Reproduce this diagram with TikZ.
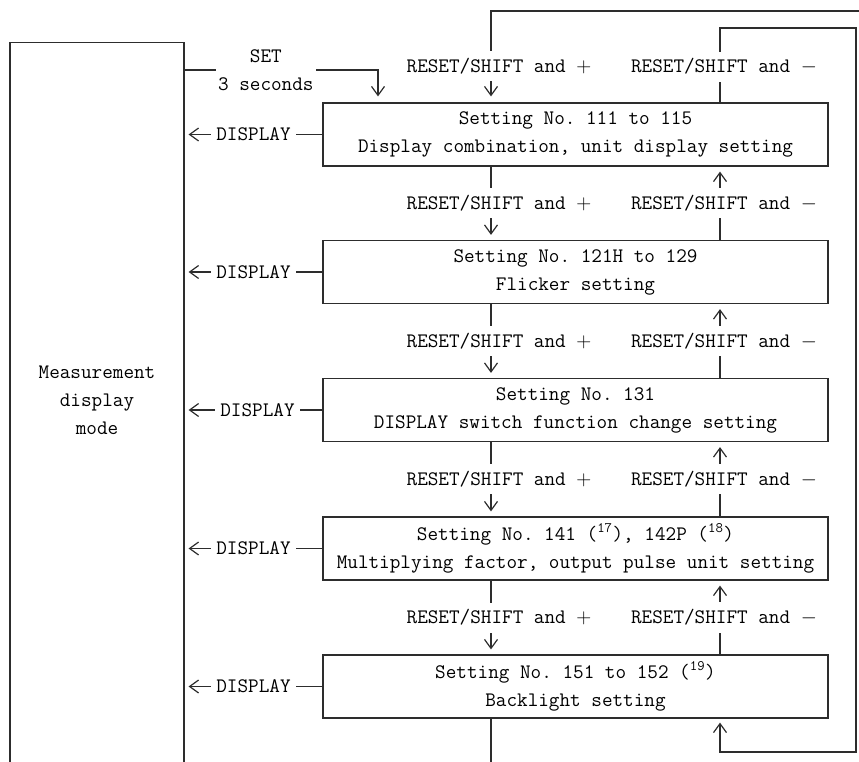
\documentclass[tikz,border=0pt]{standalone}
\usepackage{tikz}
\usetikzlibrary{arrows.meta, positioning, calc}
\definecolor{LineGray}{RGB}{45,45,45}

\begin{document}
\frenchspacing
\begin{tikzpicture}[x=1pt, y=-1pt,
    font=\fontsize{20.6}{28}\selectfont\ttfamily,
    setbox/.style={draw=LineGray, line width=1.2pt, minimum width=505pt,
                   minimum height=63pt, align=center, inner sep=0pt},
    arr/.style={-{Straight Barb[length=9pt, width=13pt]}, line width=1.2pt, LineGray},
    lbl/.style={fill=white, text=black, inner xsep=5pt, inner ysep=7pt}
  ]
  \clip (0,0) rectangle (859,762);

  % Measurement display mode (open at the bottom)
  \node[draw=LineGray, line width=1.2pt, minimum width=174pt,
        minimum height=760pt, anchor=north] (mode) at (97,42) {};
  \node[align=center] (modetxt) at (97,400) {Measurement\\display\\mode};

  % Setting boxes
  \node[setbox] (s111) at (575.5,134.5)
        {Setting No. 111 to 115\\Display combination, unit display setting};
  \node[setbox] (s121) at (575.5,272)
        {Setting No. 121H to 129\\Flicker setting};
  \node[setbox] (s131) at (575.5,410)
        {Setting No. 131\\DISPLAY switch function change setting};
  \node[setbox] (s141) at (575.5,548.5)
        {Setting No. 141 (\textsuperscript{17}), 142P (\textsuperscript{18})\\Multiplying factor, output pulse unit setting};
  \node[setbox] (s151) at (575.5,686.5)
        {Setting No. 151 to 152 (\textsuperscript{19})\\Backlight setting};

  % columns and loop corners
  \coordinate (dncol) at (491,0);
  \coordinate (upcol) at (720,0);
  \coordinate (setturn) at (378,70);
  \coordinate (outbot) at (880,790);
  \coordinate (outtop) at (880,11);
  \coordinate (intop) at (856,28);
  \coordinate (inbot) at (856,752);

  % SET 3 seconds
  \draw[arr, shorten >=6pt] (mode.east |- setturn)
        -- node[lbl, align=center, inner xsep=2pt, pos=0.42]{SET\\3 seconds} (setturn)
        -- (s111.north -| setturn);

  % outer loop (+)
  \draw[arr, shorten >=6pt] (s151.south -| dncol) |- (outbot) -- (outtop)
        -| (s111.north -| dncol) node[lbl, pos=0.8, xshift=8pt]{RESET/SHIFT and $+$};

  % inner loop (-)
  \draw[arr, shorten >=4pt] (s111.north -| upcol)
        |- node[lbl, pos=0.24, xshift=4pt]{RESET/SHIFT and $-$} (intop)
        -- (inbot) -| (s151.south -| upcol);

  % RESET/SHIFT and + between boxes
  \draw[arr, shorten >=5pt] (s111.south -| dncol) -- (s121.north -| dncol)
        node[lbl, midway, xshift=8pt]{RESET/SHIFT and $+$};
  \draw[arr, shorten >=5pt] (s121.south -| dncol) -- (s131.north -| dncol)
        node[lbl, midway, xshift=8pt]{RESET/SHIFT and $+$};
  \draw[arr, shorten >=5pt] (s131.south -| dncol) -- (s141.north -| dncol)
        node[lbl, midway, xshift=8pt]{RESET/SHIFT and $+$};
  \draw[arr, shorten >=5pt] (s141.south -| dncol) -- (s151.north -| dncol)
        node[lbl, midway, xshift=8pt]{RESET/SHIFT and $+$};

  % RESET/SHIFT and - between boxes
  \draw[arr, shorten >=5pt] (s121.north -| upcol) -- (s111.south -| upcol)
        node[lbl, midway, xshift=4pt]{RESET/SHIFT and $-$};
  \draw[arr, shorten >=5pt] (s131.north -| upcol) -- (s121.south -| upcol)
        node[lbl, midway, xshift=4pt]{RESET/SHIFT and $-$};
  \draw[arr, shorten >=5pt] (s141.north -| upcol) -- (s131.south -| upcol)
        node[lbl, midway, xshift=4pt]{RESET/SHIFT and $-$};
  \draw[arr, shorten >=5pt] (s151.north -| upcol) -- (s141.south -| upcol)
        node[lbl, midway, xshift=4pt]{RESET/SHIFT and $-$};

  % DISPLAY back to measurement mode
  \draw[arr, shorten >=4pt] (s111.west) -- (s111.west -| mode.east)
        node[lbl, midway, inner ysep=2pt]{DISPLAY};
  \draw[arr, shorten >=4pt] (s121.west) -- (s121.west -| mode.east)
        node[lbl, midway, inner ysep=2pt]{DISPLAY};
  \draw[arr, shorten >=4pt] (s131.west) -- (s131.west -| mode.east)
        node[lbl, midway, inner ysep=2pt, xshift=4pt]{DISPLAY};
  \draw[arr, shorten >=4pt] (s141.west) -- (s141.west -| mode.east)
        node[lbl, midway, inner ysep=2pt]{DISPLAY};
  \draw[arr, shorten >=4pt] (s151.west) -- (s151.west -| mode.east)
        node[lbl, midway, inner ysep=2pt]{DISPLAY};
\end{tikzpicture}
\end{document}
